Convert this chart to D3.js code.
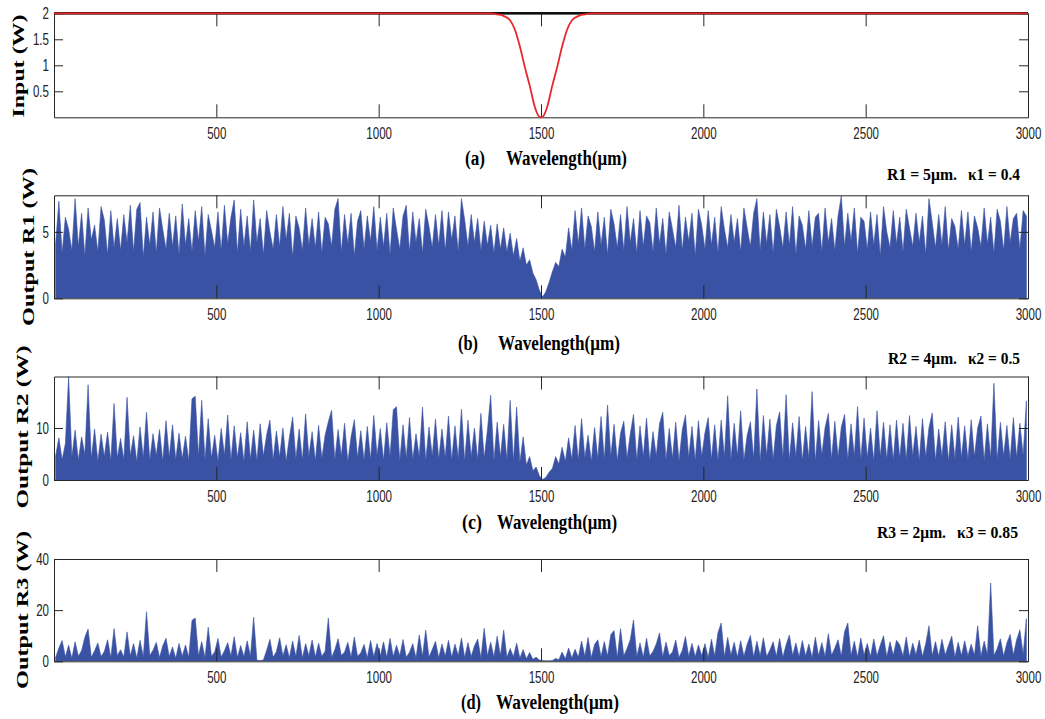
<!DOCTYPE html>
<html>
<head>
<meta charset="utf-8">
<script src="https://cdn.jsdelivr.net/npm/d3@7"></script>
<style>
  body { margin: 0; background: #fff; }
</style>
</head>
<body>
<svg id="chart" width="1045" height="719"></svg>
<script>
// ---- data ----
const xTicks = [500, 1000, 1500, 2000, 2500, 3000]

// input (a): flat level and the red dip curve
const inputWl = [0, 3000]
const inputLevel = [2, 2]
const dipWl = [0, 1340, 1356, 1370, 1384, 1404, 1420, 1435, 1450, 1466, 1481, 1495, 1500, 1505, 1519, 1534, 1550, 1565, 1580, 1596, 1616, 1630, 1644, 1660, 3000]
const dipPower = [2, 2, 1.99, 1.975, 1.95, 1.87, 1.68, 1.36, 0.97, 0.59, 0.20, 0.01, 0.0, 0.01, 0.20, 0.59, 0.97, 1.36, 1.68, 1.87, 1.95, 1.975, 1.99, 2, 2]

// output samples, one every 10 um
const bins = d3.range(0, 3000, 10)

const outR1 = [
  4.1, 7.3, 3.4, 6.1, 5.2, 3.6, 7.5, 3.9, 6.4, 3.2, 6.8, 4.4, 5.5, 3.5, 6.9, 5.9, 3.3, 6.6, 3.8, 6.0,
  3.6, 6.3, 4.2, 7.0, 3.5, 6.7, 7.2, 3.1, 6.1, 4.0, 6.5, 3.4, 6.8, 5.2, 3.7, 6.4, 3.9, 6.2, 3.3, 7.1,
  4.0, 6.0, 3.5, 6.6, 4.3, 6.9, 3.2, 6.3, 5.1, 3.8, 6.5, 3.6, 7.0, 4.1, 6.1, 7.4, 3.4, 6.7, 3.9, 6.2,
  3.5, 7.4, 4.2, 6.0, 3.3, 6.6, 5.0, 3.7, 6.3, 3.9, 6.9, 4.4, 6.4, 3.1, 6.2, 5.3, 3.6, 6.8, 4.0, 6.0,
  3.8, 6.5, 3.4, 6.1, 5.6, 3.9, 6.7, 7.5, 3.5, 6.3, 4.1, 6.4, 3.2, 5.8, 6.6, 3.7, 6.2, 4.3, 6.9, 3.6,
  6.1, 3.9, 6.4, 3.3, 6.8, 5.2, 3.7, 6.2, 7.0, 3.5, 6.5, 4.2, 6.0, 3.4, 6.7, 5.4, 3.8, 6.3, 4.0, 6.6,
  3.6, 6.5, 4.4, 6.2, 3.5, 7.5, 5.9, 3.9, 6.3, 4.2, 6.0, 3.6, 5.8, 4.0, 5.5, 3.4, 5.6, 3.7, 5.3, 3.5,
  4.9, 3.2, 4.5, 2.8, 3.8, 2.5, 2.9, 1.9, 1.4, 0.6, 0.1, 0.5, 1.2, 2.0, 2.7, 2.4, 3.7, 3.1, 5.3, 3.6,
  6.6, 4.1, 6.8, 3.7, 6.2, 5.4, 3.5, 6.5, 4.0, 6.1, 3.3, 6.7, 5.6, 3.8, 6.3, 3.6, 6.9, 4.2, 6.0, 3.4,
  6.6, 3.9, 6.2, 5.7, 3.5, 6.8, 4.1, 6.0, 3.3, 6.5, 5.2, 3.8, 7.0, 3.6, 6.1, 4.3, 6.4, 3.2, 6.7, 5.5,
  3.7, 6.6, 4.0, 6.1, 3.4, 6.9, 5.2, 3.8, 6.3, 4.2, 6.0, 3.5, 6.8, 5.3, 3.9, 6.4, 7.5, 3.6, 6.5, 4.1,
  6.3, 3.4, 6.7, 5.4, 3.8, 6.5, 4.0, 6.9, 3.3, 6.2, 5.5, 3.7, 6.6, 3.9, 6.1, 6.4, 3.5, 6.8, 4.2, 6.0,
  3.6, 6.2, 7.7, 3.9, 6.4, 4.3, 6.8, 3.4, 6.1, 5.8, 3.7, 6.5, 4.0, 6.3, 3.2, 6.9, 5.0, 3.8, 6.6, 4.1,
  6.1, 3.5, 6.7, 5.3, 3.9, 6.4, 4.2, 6.2, 3.3, 7.5, 5.7, 3.8, 6.3, 4.0, 6.9, 3.6, 6.0, 5.4, 3.7, 6.6,
  4.0, 6.5, 3.5, 6.2, 5.3, 3.9, 6.8, 4.1, 6.1, 3.4, 6.7, 5.8, 3.6, 6.9, 4.2, 6.0, 6.4, 3.7, 6.6, 6.2
]

const outR2 = [
  4.6, 8.1, 3.9, 7.0, 19.9, 4.4, 9.6, 3.8, 8.3, 4.9, 18.3, 4.1, 9.8, 3.6, 8.8, 4.5, 9.2, 3.7, 14.7, 4.2,
  8.0, 3.9, 15.9, 4.6, 8.5, 3.5, 10.2, 4.3, 13.0, 3.8, 8.9, 4.7, 9.7, 3.6, 11.4, 4.4, 10.6, 3.9, 9.0, 4.1,
  8.4, 3.7, 15.6, 16.1, 4.5, 15.3, 3.9, 11.8, 4.2, 8.6, 3.6, 9.9, 4.8, 12.5, 3.8, 10.4, 4.3, 9.1, 3.5, 11.2,
  4.0, 9.6, 3.7, 10.8, 4.6, 8.7, 11.5, 3.9, 9.4, 4.4, 10.0, 3.6, 8.2, 12.1, 4.1, 9.8, 3.8, 12.7, 4.5, 9.3,
  3.7, 10.5, 4.2, 8.6, 11.2, 13.4, 3.9, 9.7, 4.6, 10.9, 3.5, 8.3, 11.6, 4.3, 9.5, 3.8, 10.3, 4.0, 12.4, 4.7,
  9.9, 3.8, 11.0, 4.5, 13.5, 14.1, 3.6, 10.6, 4.2, 12.0, 3.9, 8.9, 4.4, 14.0, 3.7, 10.2, 4.6, 11.7, 4.0, 9.8,
  4.3, 12.3, 3.8, 10.4, 4.1, 13.6, 3.6, 11.5, 4.5, 10.0, 3.9, 12.8, 4.2, 9.6, 16.3, 3.7, 11.1, 4.4, 10.7, 3.9,
  15.3, 3.6, 14.0, 3.4, 8.3, 2.9, 4.5, 1.8, 2.5, 0.8, 0.1, 0.5, 1.5, 2.2, 4.5, 3.1, 6.3, 3.6, 8.1, 4.0,
  10.5, 3.8, 11.8, 4.3, 8.6, 3.6, 10.1, 4.1, 12.2, 3.9, 14.4, 4.5, 10.7, 3.7, 9.0, 11.3, 4.2, 8.9, 12.6, 3.8,
  10.4, 4.4, 11.9, 3.7, 9.3, 4.6, 10.8, 13.0, 3.9, 9.9, 4.2, 11.1, 3.6, 9.6, 12.5, 4.3, 10.3, 3.8, 11.4, 4.5,
  9.1, 12.0, 4.0, 10.6, 3.7, 11.5, 4.4, 16.2, 3.9, 10.9, 4.6, 13.3, 3.8, 8.6, 11.2, 4.1, 17.5, 3.6, 12.4, 4.7,
  11.7, 3.9, 10.5, 13.1, 4.3, 16.4, 3.8, 11.0, 4.5, 12.2, 3.7, 10.3, 4.2, 17.0, 3.6, 11.4, 4.8, 10.1, 12.8, 4.0,
  11.3, 4.4, 10.2, 12.6, 3.9, 10.8, 4.6, 14.1, 3.8, 11.9, 4.3, 10.0, 3.7, 13.3, 4.5, 11.1, 4.0, 10.6, 3.8, 11.5,
  4.2, 10.9, 3.9, 12.4, 4.6, 10.3, 3.7, 11.8, 4.4, 10.1, 12.9, 3.8, 9.8, 4.5, 11.2, 3.6, 10.6, 4.1, 12.1, 4.3,
  10.4, 3.9, 11.6, 4.5, 10.0, 12.3, 3.7, 10.8, 4.2, 18.6, 3.8, 11.1, 4.6, 10.5, 3.9, 12.0, 4.3, 10.9, 4.7, 15.2
]

const outR3 = [
  1.5, 5.2, 8.1, 1.8, 6.3, 1.2, 7.6, 2.0, 4.2, 9.4, 12.6, 1.6, 4.1, 7.2, 1.9, 3.8, 8.4, 1.4, 12.8, 2.2,
  4.5, 1.7, 11.5, 2.1, 6.9, 1.3, 8.2, 1.8, 19.4, 2.3, 4.3, 7.4, 1.5, 6.1, 9.0, 1.9, 5.6, 1.2, 7.0, 2.0,
  6.4, 1.6, 16.0, 16.9, 2.2, 7.7, 1.4, 13.3, 1.9, 3.7, 8.9, 1.7, 4.1, 7.3, 2.1, 9.6, 1.5, 6.2, 1.8, 8.0,
  2.0, 17.2, 0.4, 0.3, 0.5, 4.3, 8.6, 1.6, 3.8, 9.2, 2.1, 6.5, 1.4, 7.9, 1.9, 10.1, 1.3, 6.9, 2.2, 8.3,
  1.7, 7.1, 2.0, 3.9, 16.9, 1.5, 4.5, 8.8, 2.3, 3.6, 7.4, 1.6, 9.5, 2.0, 3.3, 6.6, 1.4, 8.1, 1.8, 7.0,
  2.1, 7.6, 1.5, 9.0, 1.9, 6.3, 2.2, 8.5, 1.6, 3.5, 6.9, 1.3, 10.3, 2.0, 12.2, 1.7, 4.6, 7.8, 1.4, 6.8,
  2.0, 8.2, 1.6, 6.7, 2.3, 9.1, 1.5, 7.3, 1.9, 6.0, 8.7, 1.4, 12.9, 2.1, 7.5, 1.7, 9.8, 2.2, 12.2, 1.6,
  5.0, 1.8, 7.1, 1.2, 4.6, 1.0, 3.4, 0.8, 1.6, 0.5, 0.3, 0.2, 0.2, 0.3, 1.1, 0.6, 3.6, 1.0, 5.2, 1.3,
  4.7, 1.6, 7.9, 2.0, 9.3, 1.4, 6.6, 8.4, 1.8, 7.7, 2.1, 10.4, 12.0, 1.5, 12.8, 2.2, 5.0, 8.5, 16.2, 1.9,
  7.2, 1.6, 9.0, 2.1, 3.8, 6.8, 11.1, 1.7, 7.5, 2.3, 3.6, 8.3, 1.5, 4.2, 9.7, 2.0, 7.0, 1.8, 6.4, 2.2,
  6.9, 1.5, 8.6, 2.1, 11.2, 15.0, 1.8, 9.3, 2.4, 7.4, 1.6, 8.0, 2.0, 6.7, 10.1, 1.7, 7.8, 2.2, 9.2, 1.9,
  4.4, 7.6, 2.0, 8.9, 1.6, 6.5, 10.3, 2.3, 7.2, 1.8, 8.1, 2.1, 6.8, 1.5, 9.4, 2.2, 7.3, 1.9, 10.8, 2.4,
  5.2, 8.4, 2.0, 11.6, 15.0, 2.3, 7.9, 1.7, 9.1, 2.5, 7.0, 1.9, 8.7, 2.2, 6.3, 10.0, 1.8, 7.6, 2.4, 8.2,
  6.4, 2.1, 9.5, 1.8, 7.1, 2.6, 8.3, 1.9, 6.9, 13.9, 2.2, 7.7, 2.0, 8.6, 2.5, 6.2, 9.8, 1.7, 7.4, 2.3,
  8.0, 2.2, 6.7, 2.4, 13.9, 2.0, 7.9, 2.6, 30.6, 2.3, 4.9, 8.8, 2.1, 7.2, 10.5, 2.5, 8.4, 12.3, 2.7, 16.7
]

// ---- layout ----
const svg = d3.select('#chart')
const left = 54
const right = 1028
const blue = '#3a52a3'
const axisColour = '#262626'
const serif = "'Liberation Serif', 'Times New Roman', serif"
const sans = "'Liberation Sans', Arial, sans-serif"
const squeeze = 0.68 // tick labels are narrow and tall

const x = d3.scaleLinear().domain([0, 3000]).range([left, right])

function styleTicks (sel, labelX) {
  sel.selectAll('path.domain').attr('stroke', axisColour).attr('stroke-width', 1)
  sel.selectAll('.tick line').attr('stroke', axisColour).attr('stroke-width', 1)
  const t = sel.selectAll('.tick text')
      .attr('fill', '#222')
      .style('font-family', sans)
      .style('font-size', '17px')
      .attr('transform', `scale(${squeeze},1)`)
  if (labelX !== undefined) t.attr('x', labelX / squeeze)
}

function drawAxes (g, y, top, bottom, yTicks) {
  g.append('g')
      .attr('transform', `translate(0,${bottom})`)
      .call(d3.axisBottom(x).tickValues(xTicks).tickSize(-13).tickSizeOuter(0).tickPadding(10).tickFormat(d3.format('d')))
      .call(styleTicks)

  g.append('g')
      .attr('transform', `translate(0,${top})`)
      .call(d3.axisTop(x).tickValues(xTicks).tickSize(-13).tickSizeOuter(0).tickFormat(''))
      .call(styleTicks)

  g.append('g')
      .attr('transform', `translate(${left},0)`)
      .call(d3.axisLeft(y).tickValues(yTicks).tickSize(-9).tickSizeOuter(0).tickPadding(5).tickFormat(d => String(d)))
      .call(sel => styleTicks(sel, -5))

  g.append('g')
      .attr('transform', `translate(${right},0)`)
      .call(d3.axisRight(y).tickValues(yTicks).tickSize(-9).tickSizeOuter(0).tickFormat(''))
      .call(styleTicks)
}

function boldText (str, xPos, yBase, size, len) {
  svg.append('text')
      .attr('x', xPos)
      .attr('y', yBase)
      .attr('font-family', serif)
      .attr('font-weight', 'bold')
      .attr('font-size', size)
      .attr('textLength', len)
      .attr('lengthAdjust', 'spacingAndGlyphs')
      .text(str)
}

function caption (letter, yBase, letterX, wordX, wordLen) {
  boldText(`(${letter})`, letterX, yBase, 20, 20)
  boldText('Wavelength(μm)', wordX, yBase, 20, wordLen)
}

function yLabel (label, cx, cy, len) {
  svg.append('text')
      .attr('transform', `translate(${cx},${cy}) rotate(-90)`)
      .attr('text-anchor', 'middle')
      .attr('font-family', serif)
      .attr('font-weight', 'bold')
      .attr('font-size', 16)
      .attr('textLength', len)
      .attr('lengthAdjust', 'spacingAndGlyphs')
      .text(label)
}

/* PANEL (a) - input */
{
  const top = 13.3
  const bottom = 117.3
  const y = d3.scaleLinear().domain([0, 2]).range([bottom, top])
  const g = svg.append('g')

  drawAxes(g, y, top, bottom, [0.5, 1, 1.5, 2])

  const line = d3.line().x(d => x(d[0])).y(d => y(d[1]))

  // flat input level (black), mostly hidden under the red curve
  g.append('path')
      .datum(d3.zip(inputWl, inputLevel))
      .attr('d', line)
      .attr('fill', 'none')
      .attr('stroke', '#111')
      .attr('stroke-width', 2.6)

  g.append('path')
      .datum(d3.zip(dipWl, dipPower))
      .attr('d', line.curve(d3.curveMonotoneX))
      .attr('fill', 'none')
      .attr('stroke', '#e8262b')
      .attr('stroke-width', 1.8)

  yLabel('Input (W)', 24, 66, 103)
  caption('a', 165, 465, 506, 121)
}

/* PANELS (b)-(d) - noisy outputs */
function outputPanel (id, top, bottom, yMax, yTicks, values) {
  const y = d3.scaleLinear().domain([0, yMax]).range([bottom, top])
  const g = svg.append('g')

  g.append('clipPath')
      .attr('id', 'clip-' + id)
    .append('rect')
      .attr('x', left)
      .attr('y', top)
      .attr('width', right - left)
      .attr('height', bottom - top)

  const area = d3.area()
      .x(d => x(d[0] + 5))
      .y0(y(0))
      .y1(d => y(d[1]))

  g.append('path')
      .attr('clip-path', `url(#clip-${id})`)
      .datum(d3.zip(bins, values))
      .attr('d', area)
      .attr('fill', blue)
      .attr('stroke', blue)
      .attr('stroke-width', 0.6)
      .attr('stroke-linejoin', 'miter')

  drawAxes(g, y, top, bottom, yTicks)
}

outputPanel('r1', 195.3, 298.3, 7.75, [0, 5], outR1)
outputPanel('r2', 376.5, 480, 19.9, [0, 10], outR2)
outputPanel('r3', 559, 661.3, 40, [0, 20, 40], outR3)

yLabel('Output R1 (W)', 34, 247, 158)
yLabel('Output R2 (W)', 28, 427, 163)
yLabel('Output R3 (W)', 28, 610, 158)

caption('b', 350, 458, 498, 122)
caption('c', 529, 462, 497, 120)
caption('d', 709, 461, 496, 123)

boldText('R1 = 5μm.', 887, 180, 17, 70)
boldText('κ1 = 0.4', 968, 180, 17, 52)
boldText('R2 = 4μm.', 888, 364, 17, 69)
boldText('κ2 = 0.5', 968, 364, 17, 52)
boldText('R3 = 2μm.', 877, 538, 17, 69)
boldText('κ3 = 0.85', 957, 538, 17, 61)
</script>
</body>
</html>
